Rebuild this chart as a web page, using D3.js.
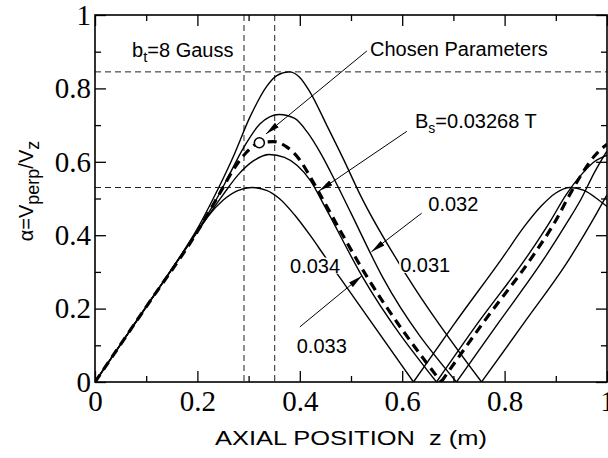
<!DOCTYPE html>
<html>
<head>
<meta charset="utf-8">
<script src="https://d3js.org/d3.v7.min.js"></script>
<style>
  body { margin: 0; background: #fff; }
  .tick text { font-family: "Liberation Serif", "Times New Roman", serif; font-size: 29px; }
  .lbl { font-family: "Liberation Sans", Arial, sans-serif; font-size: 20px; }
</style>
</head>
<body>
<svg id="plot" width="608" height="458"></svg>
<script>
// tick values
var xMajor = [0, 0.2, 0.4, 0.6, 0.8, 1];
var xMinor = [0.1, 0.3, 0.5, 0.7, 0.9];
var yMajor = [0, 0.2, 0.4, 0.6, 0.8, 1];
var yMinor = [0.1, 0.3, 0.5, 0.7, 0.9];

// reference dashed guide lines
var hGuides = [0.845, 0.53];
var vGuides = [0.291, 0.351];

// curves (first hump and second hump)
var c031a = [[0,0],[0.1,0.205],[0.17,0.35],[0.2,0.418],[0.231,0.5],[0.27,0.614],[0.303,0.723],[0.335,0.805],[0.355,0.835],[0.379,0.845],[0.40,0.83],[0.42,0.79],[0.4525,0.70],[0.485,0.608],[0.518,0.51],[0.611,0.285],[0.755,0]];
var c031b = [[0.755,0],[0.84,0.165],[0.924,0.33],[0.955,0.40],[0.98,0.46],[1.0,0.51]];
var c032a = [[0,0],[0.1,0.205],[0.17,0.348],[0.2,0.412],[0.23,0.48],[0.257,0.55],[0.29,0.638],[0.322,0.703],[0.36,0.729],[0.39,0.718],[0.415,0.68],[0.44,0.625],[0.47,0.545],[0.50,0.46],[0.562,0.285],[0.706,0]];
var c032b = [[0.706,0],[0.79,0.165],[0.879,0.34],[0.92,0.43],[0.95,0.50],[0.975,0.57],[1.0,0.63]];
var cBsa = [[0,0],[0.1,0.205],[0.2,0.41],[0.244,0.515],[0.27,0.578],[0.296,0.626],[0.321,0.652],[0.348,0.655],[0.375,0.64],[0.40,0.605],[0.42,0.56],[0.44,0.51],[0.532,0.285],[0.676,0]];
var cBsb = [[0.676,0],[0.76,0.165],[0.856,0.345],[0.90,0.44],[0.925,0.505],[0.95,0.565],[0.975,0.615],[1.0,0.648]];
var c033a = [[0,0],[0.1,0.205],[0.2,0.41],[0.25,0.51],[0.28,0.565],[0.31,0.603],[0.34,0.62],[0.37,0.612],[0.395,0.59],[0.42,0.55],[0.45,0.475],[0.523,0.285],[0.667,0]];
var c033b = [[0.667,0],[0.75,0.165],[0.843,0.34],[0.89,0.44],[0.92,0.51],[0.95,0.565],[0.975,0.60],[1.0,0.618]];
var c034a = [[0,0],[0.1,0.205],[0.2,0.41],[0.22,0.45],[0.25,0.495],[0.28,0.522],[0.306,0.53],[0.335,0.522],[0.36,0.50],[0.39,0.455],[0.42,0.40],[0.45,0.34],[0.478,0.285],[0.622,0]];
var c034b = [[0.622,0],[0.70,0.155],[0.794,0.335],[0.842,0.43],[0.872,0.48],[0.90,0.515],[0.928,0.53],[0.955,0.522],[0.98,0.50],[1.0,0.478]];

var solidCurves = [c031a, c031b, c032a, c032b, c033a, c033b, c034a, c034b];
var dashedCurves = [cBsa, cBsb];
var chosen = [0.321, 0.652];

// value labels on the curves: text, x, y (data units)
var curveLabels = [
  {t: "0.032", x: 0.651, y: 0.465},
  {t: "0.031", x: 0.596, y: 0.300},
  {t: "0.034", x: 0.381, y: 0.298},
  {t: "0.033", x: 0.394, y: 0.079}
];
// arrows: from (x1,y1) to tip (x2,y2), data units
var arrows = [
  {x1: 0.531, y1: 0.902, x2: 0.334, y2: 0.676},
  {x1: 0.609, y1: 0.683, x2: 0.438, y2: 0.521},
  {x1: 0.638, y1: 0.460, x2: 0.540, y2: 0.355},
  {x1: 0.400, y1: 0.150, x2: 0.521, y2: 0.289}
];

var W = 608, H = 458;
var padL = 95, padR = 607, padT = 15, padB = 382;

var x = d3.scaleLinear().domain([0, 1]).range([padL, padR]);
var y = d3.scaleLinear().domain([0, 1]).range([padB, padT]);

var svg = d3.select("#plot");
var defs = svg.append("defs");

defs.append("clipPath").attr("id", "clip")
  .append("rect").attr("x", padL).attr("y", padT)
  .attr("width", padR - padL).attr("height", padB - padT);

defs.append("marker")
  .attr("id", "head")
  .attr("viewBox", "0 0 14 6")
  .attr("refX", 14).attr("refY", 3)
  .attr("markerWidth", 14).attr("markerHeight", 6)
  .attr("markerUnits", "userSpaceOnUse")
  .attr("orient", "auto")
  .append("path").attr("d", "M0,0 L14,3 L0,6 Z").attr("fill", "#000");

var plot = svg.append("g").attr("clip-path", "url(#clip)");

// guide lines
plot.selectAll(".hg").data(hGuides).enter().append("line")
  .attr("x1", padL).attr("x2", padR)
  .attr("y1", function(d) { return y(d); }).attr("y2", function(d) { return y(d); })
  .attr("stroke", "#222").attr("stroke-width", 1).attr("stroke-dasharray", "6,4");
plot.selectAll(".vg").data(vGuides).enter().append("line")
  .attr("y1", padT).attr("y2", padB)
  .attr("x1", function(d) { return x(d); }).attr("x2", function(d) { return x(d); })
  .attr("stroke", "#222").attr("stroke-width", 1).attr("stroke-dasharray", "6,4");

var line = d3.line()
  .x(function(d) { return x(d[0]); })
  .y(function(d) { return y(d[1]); })
  .curve(d3.curveMonotoneX);

plot.selectAll(".solid").data(solidCurves).enter().append("path")
  .attr("d", line).attr("fill", "none")
  .attr("stroke", "#000").attr("stroke-width", 1.4);

plot.selectAll(".dash").data(dashedCurves).enter().append("path")
  .attr("d", line).attr("fill", "none")
  .attr("stroke", "#000").attr("stroke-width", 3.2)
  .attr("stroke-dasharray", "9,6");

// label backgrounds cut the curves
var lblG = svg.append("g");
curveLabels.forEach(function(d) {
  var t = lblG.append("text").attr("class", "lbl")
    .attr("x", x(d.x)).attr("y", y(d.y)).text(d.t);
  var b = t.node().getBBox();
  lblG.insert("rect", "text")
    .attr("x", b.x - 1).attr("y", b.y + 3)
    .attr("width", b.width + 2).attr("height", b.height - 6)
    .attr("fill", "#fff");
});

// arrows
svg.selectAll(".arrow").data(arrows).enter().append("line")
  .attr("x1", function(d) { return x(d.x1); })
  .attr("y1", function(d) { return y(d.y1); })
  .attr("x2", function(d) { return x(d.x2); })
  .attr("y2", function(d) { return y(d.y2); })
  .attr("stroke", "#000").attr("stroke-width", 1)
  .attr("marker-end", "url(#head)");

// chosen point
svg.append("circle")
  .attr("cx", x(chosen[0])).attr("cy", y(chosen[1])).attr("r", 5)
  .attr("fill", "#fff").attr("stroke", "#000").attr("stroke-width", 1.5);

// axes, ticks pointing inwards
var fmt = function(d) { return d === 0 || d === 1 ? String(d) : d.toFixed(1); };

svg.append("g").attr("transform", "translate(0," + padB + ")")
  .call(d3.axisBottom(x).tickValues(xMajor).tickSize(-11).tickPadding(8).tickFormat(fmt));
svg.append("g").attr("transform", "translate(0," + padB + ")")
  .call(d3.axisBottom(x).tickValues(xMinor).tickSize(-6).tickFormat(""));
svg.append("g").attr("transform", "translate(0," + padT + ")")
  .call(d3.axisTop(x).tickValues(xMajor).tickSize(-11).tickFormat(""));
svg.append("g").attr("transform", "translate(0," + padT + ")")
  .call(d3.axisTop(x).tickValues(xMinor).tickSize(-6).tickFormat(""));

svg.append("g").attr("transform", "translate(" + padL + ",0)")
  .call(d3.axisLeft(y).tickValues(yMajor).tickSize(-11).tickPadding(4).tickFormat(fmt));
svg.append("g").attr("transform", "translate(" + padL + ",0)")
  .call(d3.axisLeft(y).tickValues(yMinor).tickSize(-6).tickFormat(""));
svg.append("g").attr("transform", "translate(" + padR + ",0)")
  .call(d3.axisRight(y).tickValues(yMajor).tickSize(-11).tickFormat(""));
svg.append("g").attr("transform", "translate(" + padR + ",0)")
  .call(d3.axisRight(y).tickValues(yMinor).tickSize(-6).tickFormat(""));

svg.selectAll(".domain").remove();
svg.selectAll(".tick line").attr("stroke", "#000").attr("stroke-width", 1.3);
svg.selectAll(".tick text").attr("fill", "#000");

svg.append("rect")
  .attr("x", padL).attr("y", padT)
  .attr("width", padR - padL).attr("height", padB - padT)
  .attr("fill", "none").attr("stroke", "#000").attr("stroke-width", 1.6);

// texts
var bt = svg.append("text").attr("class", "lbl").attr("x", 132).attr("y", 57)
  .attr("font-size", 22);
bt.append("tspan").text("b");
bt.append("tspan").attr("dy", 5).attr("font-size", 15).text("t");
bt.append("tspan").attr("dy", -5).text("=8 Gauss");

svg.append("text").attr("class", "lbl").attr("x", 370).attr("y", 56)
  .text("Chosen Parameters");

var bs = svg.append("text").attr("class", "lbl").attr("x", 415).attr("y", 128);
bs.append("tspan").text("B");
bs.append("tspan").attr("dy", 5).attr("font-size", 14).text("s");
bs.append("tspan").attr("dy", -5).text("=0.03268 T");

svg.append("text").attr("class", "lbl")
  .attr("x", 215).attr("y", 445)
  .attr("font-size", 25)
  .attr("textLength", 272).attr("lengthAdjust", "spacingAndGlyphs")
  .attr("xml:space", "preserve")
  .text("AXIAL POSITION  z (m)");

var yl = svg.append("text").attr("class", "lbl")
  .attr("transform", "translate(33,191) rotate(-90)")
  .attr("text-anchor", "middle").attr("font-size", 25);
yl.append("tspan").text("\u03b1=V");
yl.append("tspan").attr("dy", 6).attr("font-size", 18).text("perp");
yl.append("tspan").attr("dy", -6).text("/V");
yl.append("tspan").attr("dy", 6).attr("font-size", 18).text("z");
</script>
</body>
</html>
